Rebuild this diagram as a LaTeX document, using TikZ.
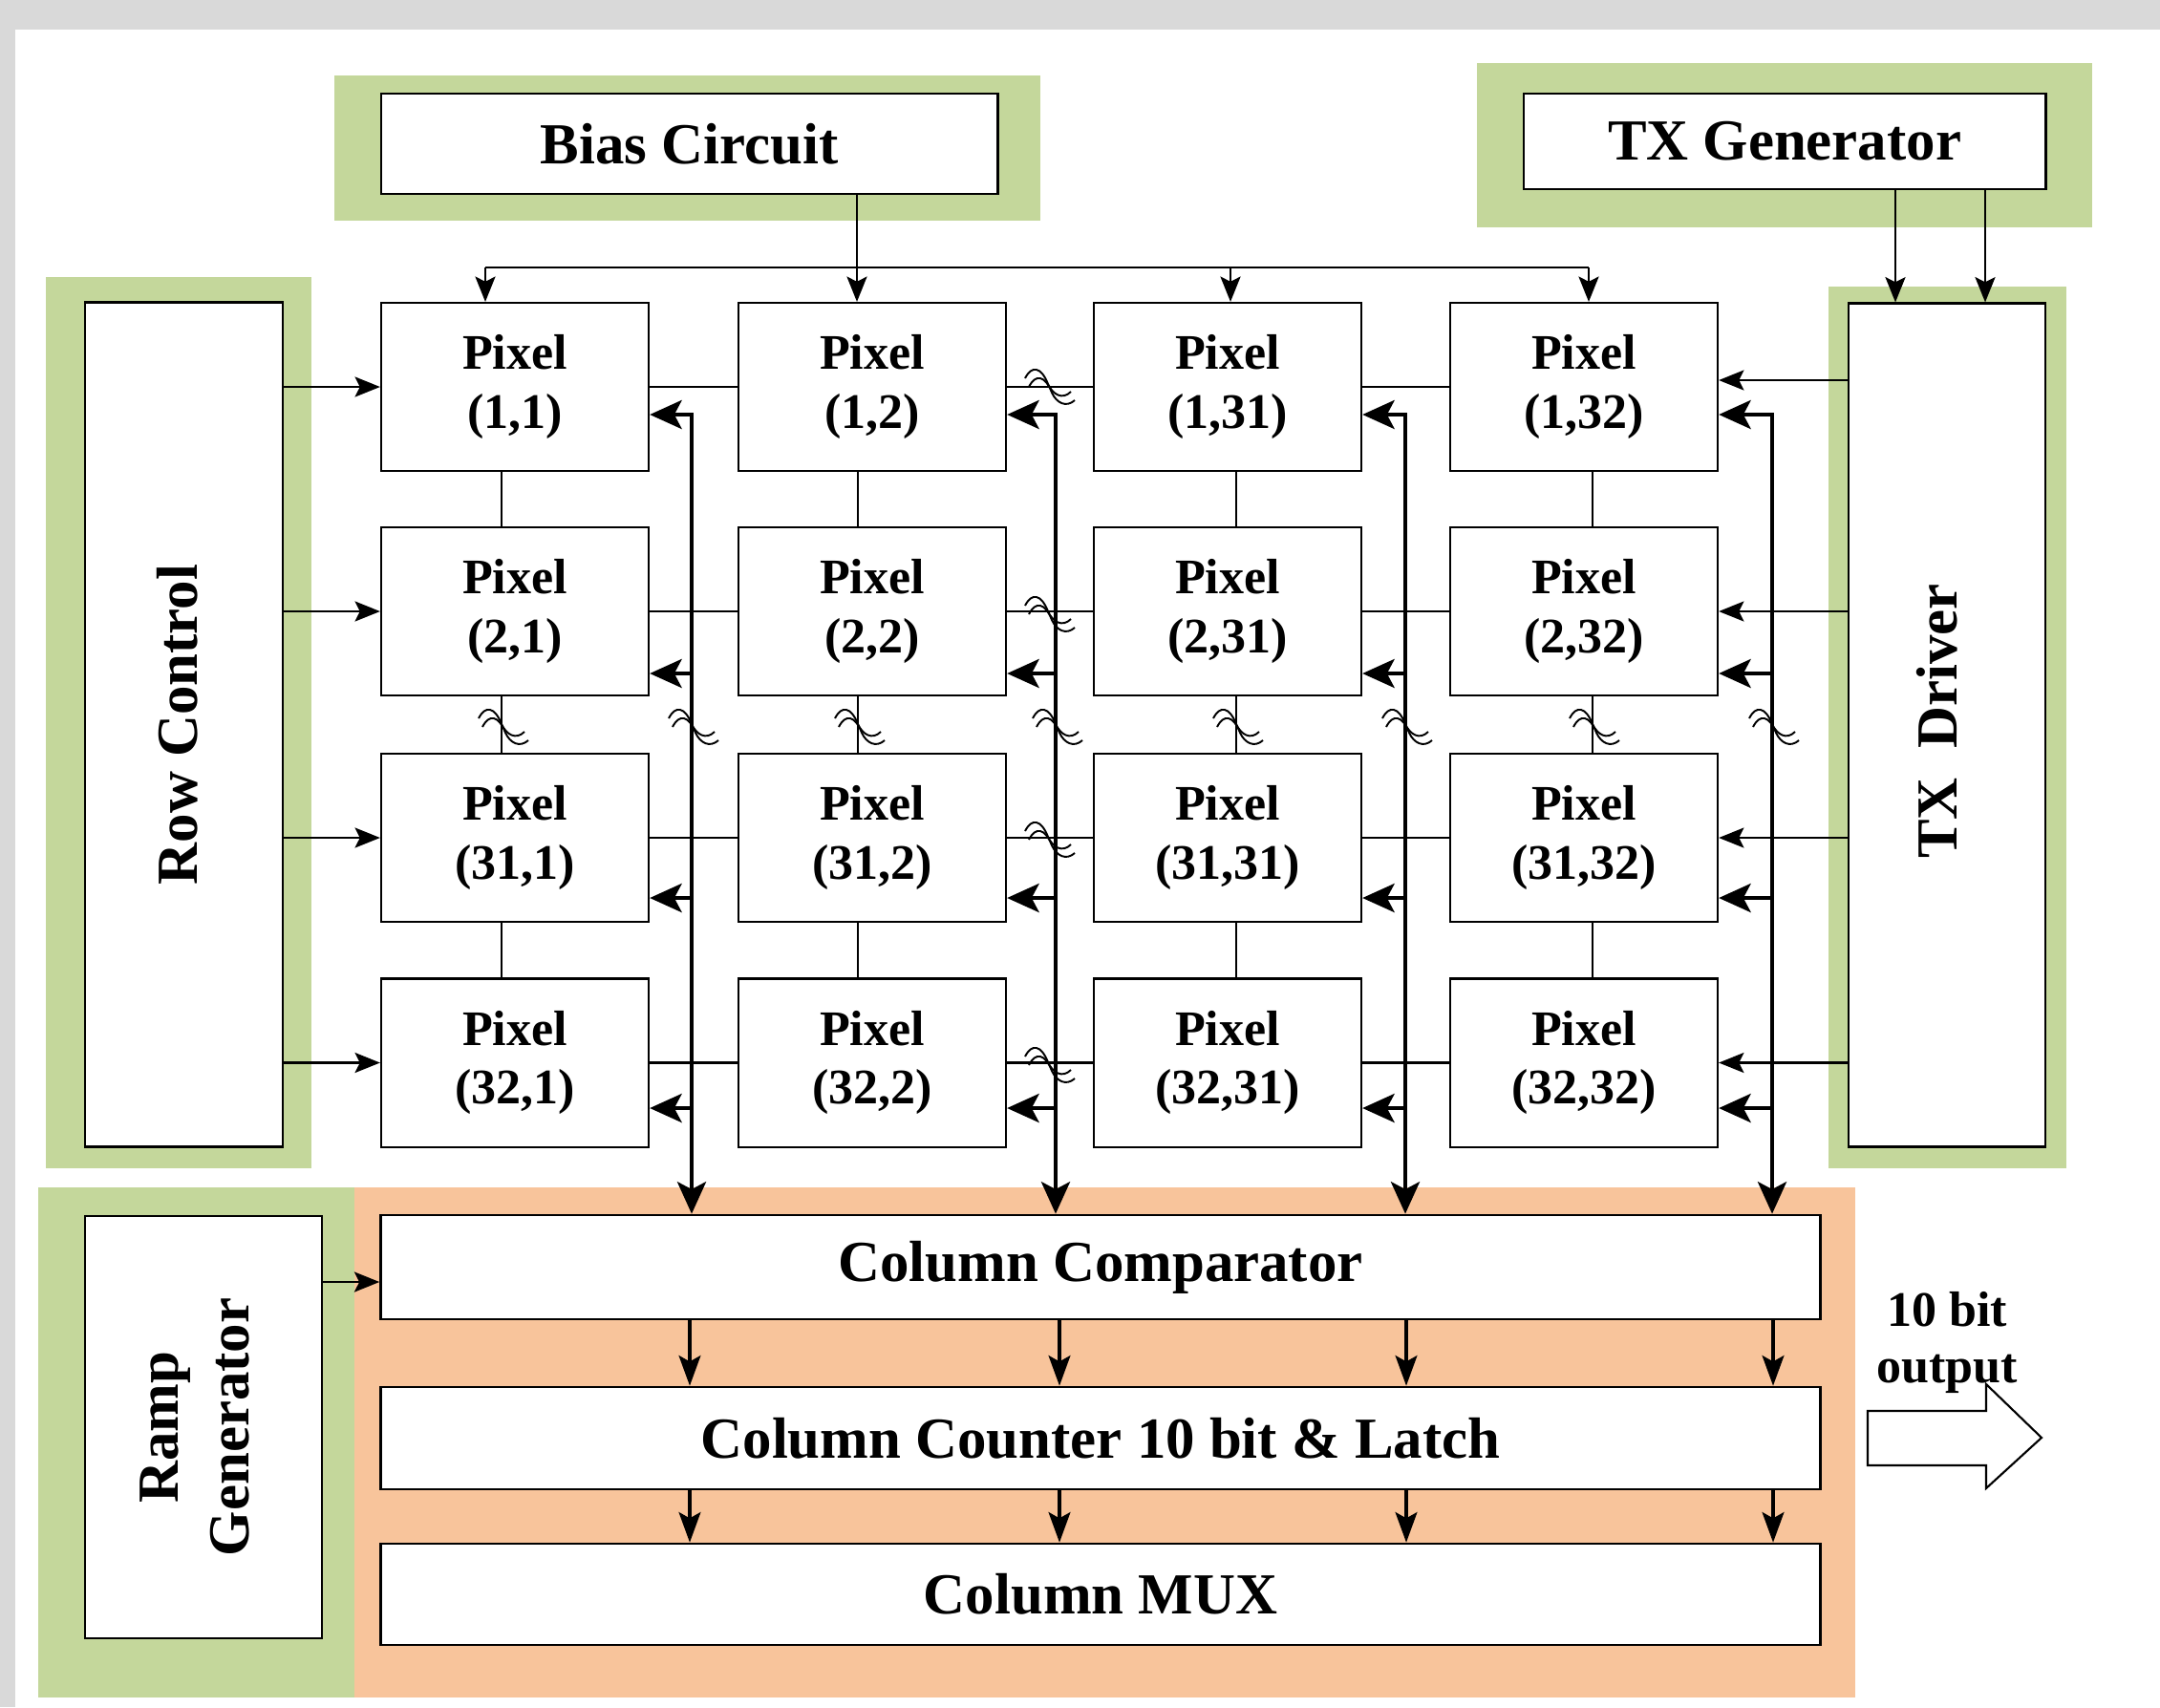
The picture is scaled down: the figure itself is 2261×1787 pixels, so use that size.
\documentclass[tikz,border=0pt]{standalone}
\usepackage{fontspec}
\setmainfont{Liberation Serif}
\usetikzlibrary{arrows.meta,calc}
\definecolor{bggray}{HTML}{D9D9D9}
\definecolor{lgreen}{HTML}{C4D79B}
\definecolor{lorange}{HTML}{F8C49B}
\begin{document}
\begin{tikzpicture}[x=0.01cm,y=-0.01cm,
  box/.style={draw, line width=0.75pt, fill=white, inner sep=0pt},
  bigtxt/.style={font=\bfseries\fontsize{17.3}{20}\selectfont},
  pix/.style={draw, line width=0.6pt, fill=white, minimum width=2.8cm, minimum height=1.76cm,
    align=center, inner sep=0pt, font=\bfseries\fontsize{14.8}{17.4}\selectfont},
  thinln/.style={line width=0.6pt},
  arr/.style={thinln, -{Stealth[length=7.5pt,width=6pt,inset=1.5pt]}},
  darr/.style={line width=0.9pt, -{Stealth[length=9pt,width=6.5pt,inset=1.8pt]}},
  busln/.style={line width=1.4pt},
  busarr/.style={busln, -{Stealth[length=9.5pt,width=8.5pt,inset=2.2pt]}},
  busarr2/.style={busln, {Stealth[length=9.5pt,width=8.5pt,inset=2.2pt]}-{Stealth[length=9.5pt,width=8.5pt,inset=2.2pt]}},
  brk/.pic={
    \draw[line width=0.55pt] (-24,-6) .. controls (-17,-20) and (-7,-18) .. (0,0) .. controls (5,11) and (15,17) .. (24,8);
    \draw[line width=0.55pt] (-20,3) .. controls (-13,-11) and (-3,-9) .. (4,9) .. controls (9,20) and (19,25) .. (28,17);
  }
]
% background
\fill[bggray] (0,0) rectangle (2261,1787);
\fill[white] (16,31) rectangle (2261,1787);
\useasboundingbox (0,0) rectangle (2261,1787);

% coloured panels
\fill[lgreen] (350,79) rectangle (1089,231);
\fill[lgreen] (1546,66) rectangle (2190,238);
\fill[lgreen] (48,290) rectangle (326,1223);
\fill[lgreen] (1914,300) rectangle (2163,1223);
\fill[lgreen] (40,1243) rectangle (371,1777);
\fill[lorange] (371,1243) rectangle (1942,1777);

% top blocks
\node[box, bigtxt, minimum width=6.45cm, minimum height=1.05cm] (bias) at (721.5,150.5) {Bias Circuit};
\node[box, bigtxt, minimum width=5.46cm, minimum height=1.0cm] (txgen) at (1868,148) {TX Generator};

% side blocks
\node[box, minimum width=2.07cm, minimum height=8.83cm] (rowctl) at (192.5,758.5) {};
\node[bigtxt, rotate=90] (rowctltxt) at (186,758.5) {Row Control};
\node[box, minimum width=2.06cm, minimum height=8.82cm] (txdrv) at (2038,759) {};
\node[bigtxt, rotate=90] (txdrvtxt) at (2028,755) {TX\ \ Driver};

% bottom blocks
\node[box, minimum width=2.48cm, minimum height=4.42cm] (ramp) at (213,1494) {};
\node[bigtxt, rotate=90, align=center] (ramptxt) at (204,1494) {Ramp\\[0.05em]Generator};
\node[box, bigtxt, minimum width=15.06cm, minimum height=1.09cm] (cmp) at (1152,1326.5) {Column Comparator};
\node[box, bigtxt, minimum width=15.06cm, minimum height=1.07cm] (cnt) at (1152,1505.5) {Column Counter 10 bit \& Latch};
\node[box, bigtxt, minimum width=15.06cm, minimum height=1.06cm] (mux) at (1152,1669) {Column MUX};

% pixel array
\foreach \r/\rl/\y in {1/1/405, 2/2/640, 3/31/877, 4/32/1112.5}{
  \foreach \c/\cl/\x in {1/1/539, 2/2/913, 3/31/1285, 4/32/1658}{
    \node[pix] (p\r\c) at (\x,\y) {Pixel\\(\rl,\cl)};
  }
}

% named helper coordinates
\coordinate (v1) at (525,0);
\coordinate (v2) at (898,0);
\coordinate (v3) at (1294,0);
\coordinate (v4) at (1667,0);
\coordinate (b1) at (724,434);
\coordinate (b2) at (1105,434);
\coordinate (b3) at (1471,434);
\coordinate (b4) at (1855,434);
\coordinate (t2) at (0,705);
\coordinate (t3) at (0,940);
\coordinate (t4) at (0,1160);
\coordinate (d1) at (0,398);
\coordinate (bl) at (508,280);
\coordinate (bj) at (897,280);
\coordinate (bm) at (1288,280);
\coordinate (br) at (1663,280);
\coordinate (g1) at (1984,0);
\coordinate (g2) at (2078,0);
\coordinate (k1) at (722,0);
\coordinate (k2) at (1109,0);
\coordinate (k3) at (1472,0);
\coordinate (k4) at (1856,0);
\coordinate (rp) at (0,1342);

% row connections
\foreach \r in {1,2,3,4}{
  \draw[thinln] (p\r1.east) -- (p\r2.west);
  \draw[thinln] (p\r2.east) -- (p\r3.west);
  \draw[thinln] (p\r3.east) -- (p\r4.west);
  \draw[arr] (rowctl.east |- p\r1.west) -- (p\r1.west);
}
\draw[arr] (txdrv.west |- d1) -- (p14.east |- d1);
\foreach \r in {2,3,4}{
  \draw[arr] (txdrv.west |- p\r4.east) -- (p\r4.east);
}
% column connections
\foreach \c in {1,2,3,4}{
  \draw[thinln] (p1\c.south -| v\c) -- (p2\c.north -| v\c);
  \draw[thinln] (p2\c.south -| v\c) -- (p3\c.north -| v\c);
  \draw[thinln] (p3\c.south -| v\c) -- (p4\c.north -| v\c);
}

% bias distribution
\draw[thinln] (bl) -- (br);
\draw[arr] (bl) -- (bl |- p11.north);
\draw[arr] (bias.south -| bj) -- (bj |- p12.north);
\draw[arr] (bm) -- (bm |- p13.north);
\draw[arr] (br) -- (br |- p14.north);

% TX generator to TX driver
\draw[arr] (txgen.south -| g1) -- (txdrv.north -| g1);
\draw[arr] (txgen.south -| g2) -- (txdrv.north -| g2);

% column buses
\foreach \c in {1,2,3,4}{
  \draw[busarr2] (p1\c.east |- b\c) -- (b\c) -- (b\c |- cmp.north);
  \draw[busarr] (b\c |- t2) -- (p2\c.east |- t2);
  \draw[busarr] (b\c |- t3) -- (p3\c.east |- t3);
  \draw[busarr] (b\c |- t4) -- (p4\c.east |- t4);
}

% break marks
\foreach \x in {525,898,1294,1667,724,1105,1471,1855}{
  \pic at (\x,758) {brk};
}
\foreach \y in {402,640,876,1112}{
  \pic at (1097,\y) {brk};
}

% column readout chain
\foreach \k in {1,2,3,4}{
  \draw[darr] (cmp.south -| k\k) -- (cnt.north -| k\k);
  \draw[darr] (cnt.south -| k\k) -- (mux.north -| k\k);
}
\draw[arr] (ramp.east |- rp) -- (cmp.west |- rp);

% output arrow
\draw[line width=0.6pt, fill=white] (1955,1477) -- (2079,1477) -- (2079,1449) -- (2137,1505)
  -- (2079,1558) -- (2079,1534) -- (1955,1534) -- cycle;
\node[align=center, inner sep=0pt, anchor=north, font=\bfseries\fontsize{14.8}{16.8}\selectfont] (outtxt) at (2038,1352) {10 bit\\output};
\end{tikzpicture}
\end{document}
